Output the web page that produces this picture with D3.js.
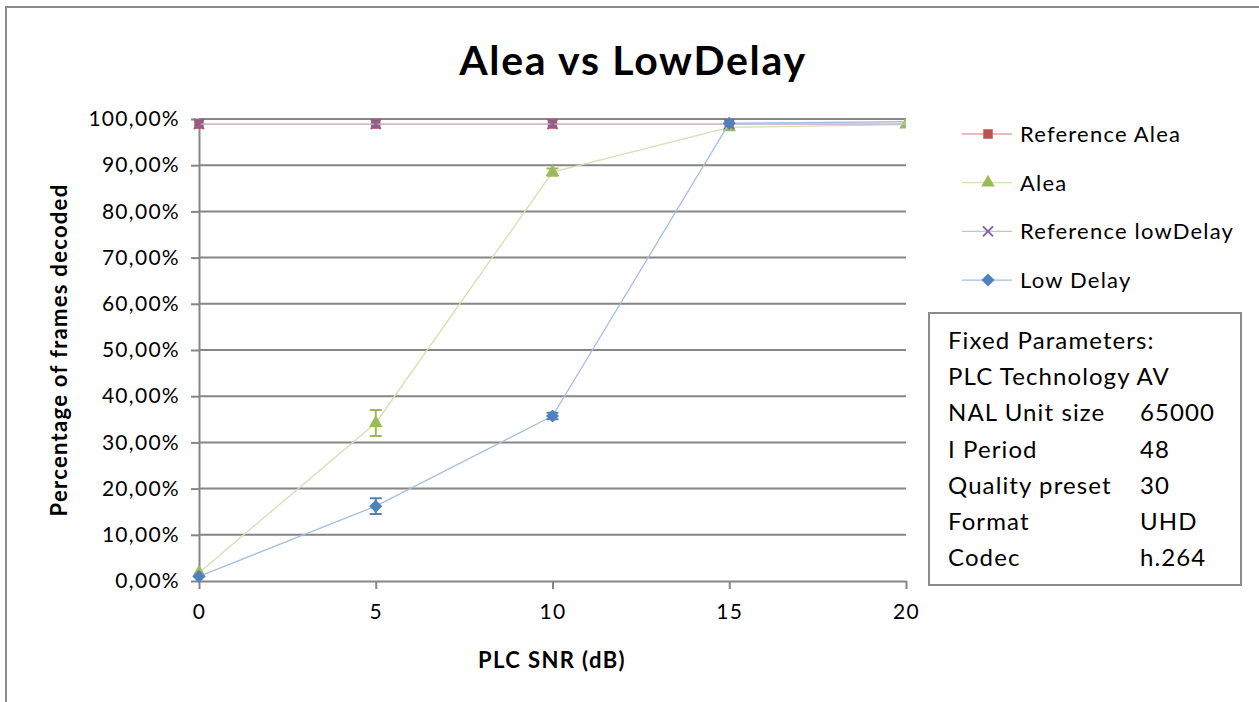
<!DOCTYPE html>
<meta charset="utf-8">
<style>
body { margin: 0; background: #fff; }
svg, svg text { font-family: Lato, "Open Sans", sans-serif; }
.grid line { stroke: #868686; stroke-width: 2px; }
.axis path, .axis line { stroke: #868686; stroke-width: 2px; }
.axis text { font-size: 21px; fill: #000; letter-spacing: 1.3px; font-family: Lato, sans-serif; }
.legend text { font-size: 22px; fill: #000; letter-spacing: 1.2px; }
.params text { font-size: 24px; fill: #000; letter-spacing: 1.1px; }
</style>
<svg width="1259" height="702"></svg>
<script src="https://d3js.org/d3.v7.min.js"></script>
<script>

var snr = [0, 5, 10, 15, 20];
var refAlea = [98.9, 98.9, 98.9, 98.9, 98.9];
var alea = [1.8, 34.2, 88.5, 98.2, 98.8];
var aleaErr = [0, 2.8, 0.8, 0, 0];
var refLowDelay = [98.9, 98.9, 98.9, 98.9, 98.9];
var lowDelay = [1.0, 16.2, 35.7, 99.1, 99.4];
var lowDelayErr = [0, 1.7, 0.7, 0, 0];
var yTicks = [0, 10, 20, 30, 40, 50, 60, 70, 80, 90, 100];
var params = [["Fixed Parameters:", ""], ["PLC Technology AV", ""], ["NAL Unit size", "65000"],
  ["I Period", "48"], ["Quality preset", "30"], ["Format", "UHD"], ["Codec", "h.264"]];

var svg = d3.select("svg");

var x = d3.scaleLinear().domain([0, 20]).range([199, 906]);
var y = d3.scaleLinear().domain([0, 100]).range([581, 119]);

// outer chart border, runs off the picture
svg.append("rect").attr("x", 6).attr("y", 7).attr("width", 1300).attr("height", 750)
    .attr("fill", "none").attr("stroke", "#8c8c8c").attr("stroke-width", 2);

svg.append("text").attr("x", 633).attr("y", 75).attr("text-anchor", "middle")
    .style("font-size", "41px").style("font-weight", "bold").style("letter-spacing", "1.7px")
    .text("Alea vs LowDelay");

svg.append("g").attr("class", "grid")
  .selectAll("line").data(yTicks.slice(1)).enter().append("line")
    .attr("x1", x(0)).attr("x2", x(20))
    .attr("y1", function(d) { return y(d); }).attr("y2", function(d) { return y(d); });

var fmt = function(d) { return d.toFixed(2).replace(".", ",") + "%"; };

svg.append("g").attr("class", "axis")
    .attr("transform", "translate(" + x(0) + ",0)")
    .call(d3.axisLeft(y).tickValues(yTicks).tickFormat(fmt).tickSize(8).tickSizeOuter(0).tickPadding(11));

svg.append("g").attr("class", "axis")
    .attr("transform", "translate(0," + y(0) + ")")
    .call(d3.axisBottom(x).tickValues(snr).tickSize(8).tickSizeOuter(0).tickPadding(15));

svg.selectAll(".axis text").style("font-family", "Lato, sans-serif");

svg.append("text").attr("x", 552).attr("y", 668).attr("text-anchor", "middle")
    .style("font-size", "22px").style("font-weight", "bold").style("letter-spacing", "1.4px")
    .text("PLC SNR (dB)");
svg.append("text").attr("transform", "translate(67,350) rotate(-90)").attr("text-anchor", "middle")
    .style("font-size", "22px").style("font-weight", "bold").style("letter-spacing", "1.3px")
    .text("Percentage of frames decoded");

svg.append("clipPath").attr("id", "plot")
  .append("rect").attr("x", x(0) - 20).attr("y", 100).attr("width", x(20) - x(0) + 20).attr("height", 500);

var series = [
  { name: "Reference Alea", values: refAlea, color: "#C0504D", line: "#dca6ab", symbol: d3.symbolSquare, size: 90 },
  { name: "Alea", values: alea, err: aleaErr, color: "#9BBB59", line: "#d3e0b4", symbol: d3.symbolTriangle, size: 80 },
  { name: "Reference lowDelay", values: refLowDelay, color: "#8064A2", line: "#c9bddb", symbol: "x", size: 5 },
  { name: "Low Delay", values: lowDelay, err: lowDelayErr, color: "#4F81BD", line: "#a5bfe2", symbol: "diamond", size: 6.5 }
];

function drawMarker(g, s, cx, cy) {
  var r = s.size;
  if (s.symbol === "x") {
    g.append("path").attr("d", "M" + (cx - r) + "," + (cy - r) + "L" + (cx + r) + "," + (cy + r) +
        "M" + (cx - r) + "," + (cy + r) + "L" + (cx + r) + "," + (cy - r))
      .attr("stroke", s.color).attr("stroke-width", 2).attr("fill", "none");
  } else if (s.symbol === "diamond") {
    g.append("path").attr("d", "M" + cx + "," + (cy - r) + "L" + (cx + r) + "," + cy +
        "L" + cx + "," + (cy + r) + "L" + (cx - r) + "," + cy + "Z")
      .attr("fill", s.color);
  } else {
    g.append("path").attr("d", d3.symbol().type(s.symbol).size(s.size)())
      .attr("transform", "translate(" + cx + "," + cy + ")")
      .attr("fill", s.color);
  }
}

var plot = svg.append("g").attr("clip-path", "url(#plot)");
var line = d3.line().x(function(d, i) { return x(snr[i]); }).y(function(d) { return y(d); });

series.forEach(function(s) {
  var g = plot.append("g");
  g.append("path").datum(s.values).attr("d", line)
    .attr("fill", "none").attr("stroke", s.line).attr("stroke-width", 1.3);
  if (s.err) {
    s.values.forEach(function(v, i) {
      if (!s.err[i]) return;
      var cx = x(snr[i]), y0 = y(v - s.err[i]), y1 = y(v + s.err[i]);
      g.append("path").attr("d", "M" + cx + "," + y0 + "V" + y1 + "M" + (cx - 6) + "," + y0 + "H" + (cx + 6) +
          "M" + (cx - 6) + "," + y1 + "H" + (cx + 6))
        .attr("stroke", s.color).attr("stroke-width", 2).attr("fill", "none");
    });
  }
  // the last point sits on the plot edge; only the Alea one shows there
  s.values.forEach(function(v, i) {
    if (i === snr.length - 1 && s.name !== "Alea") return;
    drawMarker(g, s, x(snr[i]), y(v));
  });
});

// legend
var legend = svg.append("g").attr("class", "legend");
series.forEach(function(s, i) {
  var ly = 134 + i * 48.7;
  var g = legend.append("g");
  g.append("line").attr("x1", 962).attr("x2", 1012).attr("y1", ly).attr("y2", ly)
    .attr("stroke", s.line).attr("stroke-width", 1.3);
  drawMarker(g, s, 988, ly);
  g.append("text").attr("x", 1020).attr("y", ly + 8).text(s.name);
});

// fixed parameters box
var box = svg.append("g").attr("class", "params");
box.append("rect").attr("x", 929).attr("y", 313).attr("width", 312).attr("height", 272)
  .attr("fill", "#fff").attr("stroke", "#8c8c8c").attr("stroke-width", 2);
params.forEach(function(p, i) {
  var ty = 349 + i * 36.2;
  box.append("text").attr("x", 948).attr("y", ty).text(p[0]);
  box.append("text").attr("x", 1140).attr("y", ty).text(p[1]);
});

</script>
